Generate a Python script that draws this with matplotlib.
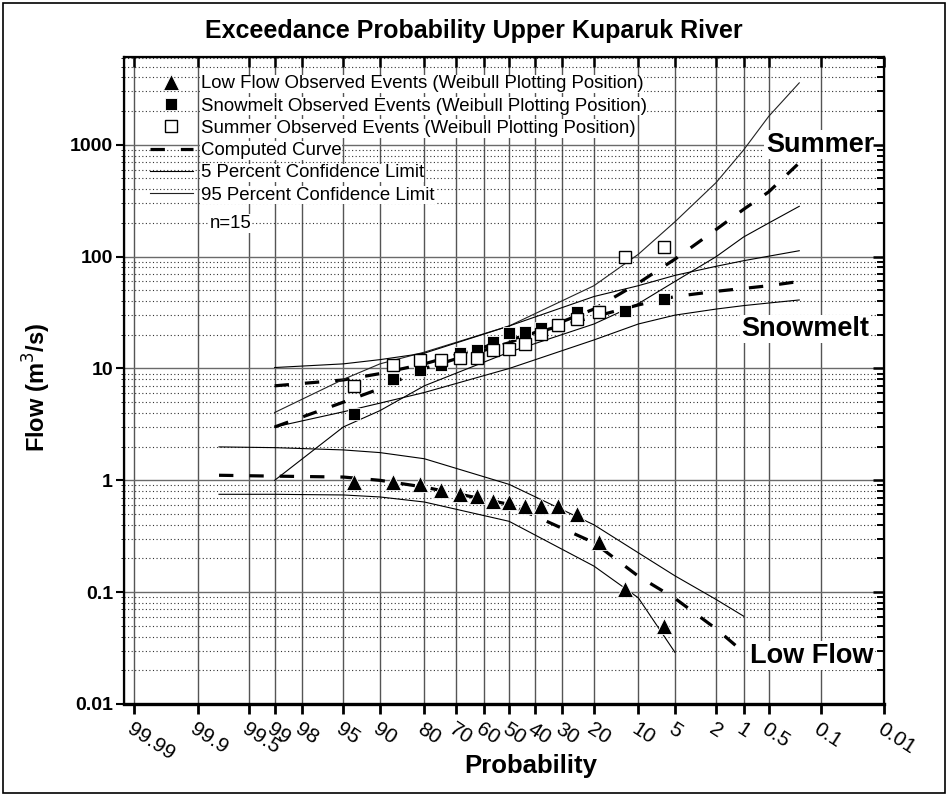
import numpy as np
import matplotlib.pyplot as plt
from matplotlib.patches import Rectangle
from matplotlib.ticker import LogLocator, NullLocator, NullFormatter
from matplotlib.transforms import ScaledTranslation
from statistics import NormalDist

plt.rcParams['font.family'] = ['Liberation Sans', 'DejaVu Sans']

# observed events, Weibull plotting position m/(n+1), n=15 (exceedance %)
vtPobs = [6.25, 12.5, 18.75, 25, 31.25, 37.5, 43.75, 50, 56.25, 62.5, 68.75, 75, 81.25, 87.5, 93.75]
vtLowObs = [0.0497, 0.106, 0.28, 0.50, 0.59, 0.59, 0.59, 0.64, 0.65, 0.73, 0.75, 0.82, 0.92, 0.96, 0.97]
vtSnowObs = [41.6, 33, 32.5, 32, 24, 23, 21, 20.7, 17.1, 14.7, 13.9, 10.7, 9.7, 8.0, 3.9]
vtSumObs = [121, 100, 32.3, 27.6, 24.6, 20.5, 16.5, 14.9, 14.7, 12.3, 12.3, 11.9, 11.9, 10.7, 7.0]

# computed frequency curves and confidence limits
vtPcurve = [99, 95, 90, 80, 50, 20, 10, 5, 2, 1, 0.5, 0.2]
vtSumComp = [3.0, 5.0, 6.6, 10, 17, 34, 58, 95, 175, 265, 380, 690]
vtSumLo = [1.0, 3.0, 4.2, 7.0, 14, 25, 38, 60, 100, 150, 200, 282]
vtSumHi = [4.04, 8.0, 11, 14, 24, 55, 105, 205, 460, 900, 1800, 3580]
vtSnowComp = [7.0, 7.9, 9.0, 11, 18, 29, 37, 44, 49, 52, 55, 60]
vtSnowLo = [3.0, 4.1, 4.9, 6.1, 10, 18, 25, 30, 34, 36.5, 38.5, 41]
vtSnowHi = [10.2, 11.0, 12.0, 13.7, 24, 44, 55, 68, 82, 92, 101, 113]

vtPlow = [99.8, 99, 95, 90, 80, 50, 20, 10, 5, 2, 1]
vtLowComp = [1.11, 1.09, 1.07, 1.0, 0.87, 0.61, 0.277, 0.139, 0.088, 0.047, 0.029]
vtLowHi = [1.99, 1.96, 1.87, 1.77, 1.56, 0.92, 0.40, 0.225, 0.14, 0.086, 0.061]
vtPlowLo = [99.8, 99, 95, 90, 80, 50, 20, 10, 5]
vtLowLo = [0.75, 0.75, 0.74, 0.71, 0.64, 0.43, 0.171, 0.089, 0.029]

vtPticks = [99.99, 99.9, 99.5, 99, 98, 95, 90, 80, 70, 60, 50, 40, 30, 20, 10, 5, 2, 1, 0.5, 0.1, 0.01]
vtPtickLbl = ['99.99', '99.9', '99.5', '99', '98', '95', '90', '80', '70', '60', '50', '40',
              '30', '20', '10', '5', '2', '1', '0.5', '0.1', '0.01']
vtYticks = [0.01, 0.1, 1, 10, 100, 1000]
vtYtickLbl = ['0.01', '0.1', '1', '10', '100', '1000']

nd = NormalDist()
# normal probability scale (increasing in p, axis inverted below)
fwd = np.vectorize(lambda p: nd.inv_cdf(min(max(p / 100.0, 1e-12), 1 - 1e-12)), otypes=[float])
inv = np.vectorize(lambda z: 100.0 * nd.cdf(z), otypes=[float])

fig = plt.figure(figsize=(9.48, 7.96), dpi=100)
ax = fig.add_axes([124 / 948, 1 - 704 / 796, 760 / 948, 647 / 796])
ax.set_xscale('function', functions=(fwd, inv))
ax.set_yscale('log')
xlim = (99.99335, 0.01)
ylim = (0.01, 6100)

# grid
ax.set_xticks(vtPticks, labels=vtPtickLbl)
ax.xaxis.set_minor_locator(NullLocator())
ax.set_yticks(vtYticks, labels=vtYtickLbl)
ax.yaxis.set_minor_locator(LogLocator(base=10, subs=np.arange(2, 10)))
ax.yaxis.set_minor_formatter(NullFormatter())
ax.grid(which='major', axis='x', color='#555555', lw=1.0)
ax.grid(which='major', axis='y', color='#6a6a6a', lw=1.0)
ax.grid(which='minor', axis='y', color='#333333', lw=0.8, ls=(0, (1, 2.2)))
ax.set_axisbelow(True)

# curves
dash = (0, (4.5, 5))
hComp, = ax.plot(vtPcurve, vtSumComp, color='black', lw=2.3, ls=dash)
ax.plot(vtPcurve, vtSnowComp, color='black', lw=2.3, ls=dash)
ax.plot(vtPlow, vtLowComp, color='black', lw=2.3, ls=dash)
hLo, = ax.plot(vtPcurve, vtSumLo, color='black', lw=0.8)
hHi, = ax.plot(vtPcurve, vtSumHi, color='#222222', lw=0.8)
ax.plot(vtPcurve, vtSnowLo, color='black', lw=0.8)
ax.plot(vtPcurve, vtSnowHi, color='black', lw=0.8)
ax.plot(vtPlowLo, vtLowLo, color='black', lw=0.8)
ax.plot(vtPlow, vtLowHi, color='black', lw=0.8)

# observed events
hLow, = ax.plot(vtPobs, vtLowObs, ls='none', marker='^', ms=11, color='black', mec='white', mew=0.6)
hSnow, = ax.plot(vtPobs, vtSnowObs, ls='none', marker='s', ms=8.5, color='black', mec='white', mew=0.6)
hSum, = ax.plot(vtPobs, vtSumObs, ls='none', marker='s', ms=8.5, mfc='white', mec='black', mew=1.0)

ax.set_xlim(*xlim)
ax.set_ylim(*ylim)

# tick styling
for lbl in ax.get_xticklabels():
    lbl.set_rotation(-33)
    lbl.set_ha('left')
    lbl.set_va('top')
    lbl.set_rotation_mode('anchor')
    lbl.set_fontsize(15)
    lbl.set_transform(lbl.get_transform() + ScaledTranslation(-10 / 100, 0, fig.dpi_scale_trans))
ax.tick_params(axis='x', which='major', direction='out', length=7, width=2, pad=4)
ax.tick_params(axis='y', which='major', direction='out', length=6, width=1.5, labelsize=14, pad=2)
ax.tick_params(axis='y', which='minor', left=False)
for lbl in ax.get_yticklabels():
    lbl.set_fontweight('bold')
for s in ax.spines.values():
    s.set_linewidth(1.6)
ax.spines['bottom'].set_linewidth(2.4)

# inward ticks on top and right
axT = ax.twiny()
axT.set_xscale('function', functions=(fwd, inv))
axT.set_xlim(*xlim)
axT.set_xticks(vtPticks)
axT.xaxis.set_minor_locator(NullLocator())
axT.tick_params(axis='x', direction='in', length=7, width=1.8, labeltop=False)
axR = ax.twinx()
axR.set_yscale('log')
axR.set_ylim(*ylim)
axR.yaxis.set_major_locator(LogLocator(base=10))
axR.yaxis.set_minor_locator(LogLocator(base=10, subs=np.arange(2, 10)))
axR.tick_params(axis='y', which='major', direction='in', length=8, width=1.8, labelright=False)
axR.tick_params(axis='y', which='minor', direction='in', length=5, width=1.4, labelright=False)

# labels
ax.set_xlabel('Probability', fontsize=18.5, fontweight='bold')
ax.xaxis.set_label_coords(0.535, -0.077)
ax.set_ylabel('Flow (m$^3$/s)', fontsize=17, fontweight='bold')
ax.yaxis.set_label_coords(-0.093, 0.49)
fig.text(0.5, 1 - 31 / 796, 'Exceedance Probability Upper Kuparuk River', ha='center', va='center',
         fontsize=18, fontweight='bold')

bb = dict(facecolor='white', edgecolor='none', pad=1)
ax.text(1, 1000, 'Summer', fontsize=19.5, fontweight='bold', ha='center', va='center', bbox=bb,
        transform=ax.get_yaxis_transform() + ScaledTranslation(-64 / 100, 0, fig.dpi_scale_trans))
ax.text(1, 22.5, 'Snowmelt', fontsize=19.5, fontweight='bold', ha='center', va='center', bbox=bb,
        transform=ax.get_yaxis_transform() + ScaledTranslation(-79 / 100, 0, fig.dpi_scale_trans))
ax.text(1, 0.027, 'Low Flow', fontsize=19.5, fontweight='bold', ha='center', va='center', bbox=bb,
        transform=ax.get_yaxis_transform() + ScaledTranslation(-72 / 100, 0, fig.dpi_scale_trans))

leg = ax.legend([hLow, hSnow, hSum, hComp, hLo, hHi],
                ['Low Flow Observed Events (Weibull Plotting Position)',
                 'Snowmelt Observed Events (Weibull Plotting Position)',
                 'Summer Observed Events (Weibull Plotting Position)',
                 'Computed Curve', '5 Percent Confidence Limit', '95 Percent Confidence Limit'],
                loc='upper left', bbox_to_anchor=(0.0245, 0.983), frameon=False, fontsize=13.4,
                handlelength=2.3, handletextpad=0.41, labelspacing=0.28, numpoints=1,
                borderaxespad=0)
for t in leg.get_texts():
    t.set_bbox(dict(facecolor='white', edgecolor='none', pad=0.5))
ax.text(0.113, 0.743, 'n=15', transform=ax.transAxes, fontsize=13.4, ha='left', va='center',
        bbox=dict(facecolor='white', edgecolor='none', pad=0.5))

fig.patches.append(Rectangle((3 / 948, 3 / 796), 1 - 6 / 948, 1 - 6 / 796, transform=fig.transFigure,
                             fill=False, edgecolor='black', lw=1.2))

fig.savefig('out.png', dpi=100)
